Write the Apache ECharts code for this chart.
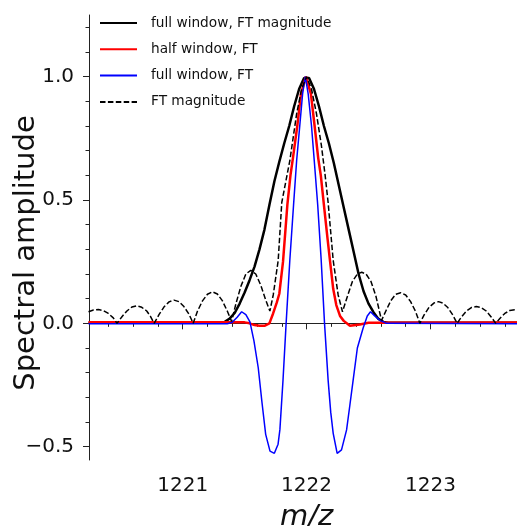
<!DOCTYPE html>
<html><head><meta charset="utf-8">
<script src="https://cdn.jsdelivr.net/npm/echarts@6/dist/echarts.min.js"></script>
<style>html,body{margin:0;padding:0;background:#fff}#c{width:517px;height:526px}</style>
</head><body><div id="c"></div>
<script>
// ---- data ----
const seriesNames = ['full window, FT magnitude', 'half window, FT', 'full window, FT', 'FT magnitude'];
const xTitle = 'm/z';
const yTitle = 'Spectral amplitude';

const xMajorTicks = [1221, 1222, 1223];
const xMinorTicks = [1220.4,1220.6,1220.8,1221.0,1221.2,1221.4,1221.6,1221.8,1222.0,1222.2,1222.4,1222.6,1222.8,1223.0,1223.2,1223.4,1223.6];
const yMajorTicks = [-0.5, 0.0, 0.5, 1.0];
const yMinorTicks = [-0.5,-0.4,-0.3,-0.2,-0.1,0.0,0.1,0.2,0.3,0.4,0.5,0.6,0.7,0.8,0.9,1.0,1.1,1.2];

const blackX = [1220.24,1221.30,1221.34,1221.38,1221.42,1221.46,1221.50,1221.54,1221.58,1221.62,1221.66,1221.70,1221.74,1221.78,1221.82,1221.86,1221.90,1221.94,1221.98,1222.02,1222.06,1222.10,1222.14,1222.18,1222.22,1222.26,1222.30,1222.34,1222.38,1222.42,1222.46,1222.50,1222.54,1222.58,1222.62,1222.66,1223.80];
const blackY = [0.002,0.002,0.006,0.02,0.042,0.08,0.125,0.175,0.23,0.3,0.38,0.48,0.575,0.655,0.73,0.8,0.88,0.95,0.995,0.995,0.95,0.88,0.8,0.73,0.65,0.56,0.47,0.38,0.29,0.2,0.13,0.08,0.045,0.018,0.006,0.002,0.002];

const redX = [1220.24,1221.50,1221.54,1221.58,1221.62,1221.66,1221.70,1221.73,1221.76,1221.78,1221.81,1221.845,1221.87,1221.89,1221.925,1221.955,1221.995,1222.035,1222.065,1222.094,1222.115,1222.14,1222.17,1222.19,1222.215,1222.24,1222.27,1222.30,1222.35,1222.43,1222.50,1223.80];
const redY = [0.004,0.004,0.0,-0.007,-0.01,-0.01,0.0,0.04,0.085,0.12,0.25,0.48,0.6,0.67,0.8,0.93,1.0,0.93,0.8,0.67,0.6,0.48,0.34,0.25,0.14,0.074,0.03,0.01,-0.01,-0.005,0.002,0.004];

const blueX = [1220.24,1221.36,1221.40,1221.44,1221.476,1221.51,1221.543,1221.575,1221.61,1221.64,1221.67,1221.705,1221.74,1221.77,1221.785,1221.81,1221.835,1221.865,1221.895,1221.92,1221.945,1221.968,1221.99,1222.013,1222.04,1222.062,1222.09,1222.118,1222.145,1222.174,1222.195,1222.215,1222.247,1222.282,1222.323,1222.35,1222.376,1222.41,1222.456,1222.49,1222.516,1222.55,1222.59,1222.645,1223.80];
const blueY = [-0.002,-0.002,0.004,0.025,0.047,0.035,0.006,-0.07,-0.18,-0.32,-0.45,-0.518,-0.527,-0.49,-0.43,-0.23,0.0,0.257,0.48,0.66,0.8,0.93,1.0,0.93,0.8,0.66,0.48,0.257,0.0,-0.23,-0.36,-0.446,-0.527,-0.513,-0.432,-0.33,-0.23,-0.1,-0.02,0.03,0.047,0.03,0.013,0.0,-0.002];

const dashX = [1220.24,1220.28,1220.32,1220.36,1220.40,1220.44,1220.47,
  1220.51,1220.55,1220.59,1220.63,1220.67,1220.71,1220.74,1220.77,
  1220.81,1220.85,1220.89,1220.93,1220.97,1221.01,1221.05,1221.085,
  1221.12,1221.16,1221.20,1221.24,1221.28,1221.32,1221.36,1221.395,
  1221.43,1221.47,1221.51,1221.55,1221.59,1221.63,1221.67,1221.704,
  1221.731,1221.771,1221.80,1221.865,1221.92,1221.96,1222.00,1222.04,1222.08,1222.12,1222.15,1222.174,1222.215,1222.255,1222.29,
  1222.33,1222.37,1222.41,1222.445,1222.48,1222.52,1222.56,1222.605,
  1222.64,1222.68,1222.72,1222.76,1222.80,1222.84,1222.88,1222.914,
  1222.95,1222.99,1223.03,1223.065,1223.10,1223.14,1223.18,1223.215,
  1223.25,1223.29,1223.33,1223.37,1223.41,1223.45,1223.49,1223.527,
  1223.56,1223.60,1223.64,1223.68,1223.72,1223.76];
const dashY = [0.047,0.054,0.056,0.052,0.04,0.022,0.0,
  0.027,0.05,0.066,0.071,0.065,0.05,0.028,0.0,
  0.036,0.067,0.087,0.094,0.088,0.068,0.038,0.0,
  0.05,0.091,0.118,0.128,0.119,0.092,0.05,0.008,
  0.08,0.15,0.2,0.215,0.2,0.155,0.095,0.05,
  0.115,0.255,0.49,0.66,0.85,0.95,1.0,0.95,0.85,0.72,0.6,0.49,0.255,0.115,0.047,
  0.11,0.17,0.2,0.207,0.2,0.17,0.11,0.012,
  0.05,0.092,0.118,0.124,0.115,0.088,0.048,0.0,
  0.035,0.066,0.083,0.088,0.082,0.064,0.034,0.0,
  0.026,0.05,0.064,0.068,0.064,0.05,0.026,0.0,
  0.02,0.04,0.052,0.055,0.052,0.042];

// ---- chart ----
const FONT = 'DejaVu Sans';
const X_MIN = 1220.244, X_MAX = 1223.755, Y_MIN = -0.554, Y_MAX = 1.25;
const pairs = (xs, ys) => xs.map((x, i) => [x, ys[i]]);
const fmtY = v => (v < 0 ? '\u2212' + Math.abs(v).toFixed(1) : v.toFixed(1));

const chart = echarts.init(document.getElementById('c'), null, {renderer: 'canvas'});
const axisLine = {show: true, lineStyle: {color: '#222', width: 1}};
chart.setOption({
  animation: false,
  backgroundColor: '#fff',
  grid: {left: 89, right: -7, top: 15, bottom: 66, containLabel: false, outerBoundsMode: 'none'},
  legend: {
    orient: 'vertical', left: 94, top: 11,
    itemWidth: 37, itemHeight: 14, itemGap: 12.3,
    itemStyle: {opacity: 0},
    textStyle: {fontFamily: FONT, fontSize: 13.7, color: '#111', padding: [0, 0, 0, 9]},
    data: seriesNames
  },
  graphic: [{
    type: 'text', x: 26, y: 253, rotation: Math.PI / 2, silent: true,
    style: {text: yTitle, font: '29px "DejaVu Sans"', fill: '#111', align: 'center', verticalAlign: 'middle'}
  }],
  xAxis: [{
    type: 'value', min: X_MIN, max: X_MAX, position: 'bottom',
    axisLine: axisLine, splitLine: {show: false},
    axisTick: {show: true, inside: false, length: 6, customValues: xMajorTicks, lineStyle: {color: '#222'}},
    axisLabel: {show: true, customValues: xMajorTicks, margin: 16, fontFamily: FONT, fontSize: 20, color: '#111', formatter: v => String(Math.round(v))},
    name: xTitle, nameLocation: 'middle', nameGap: 43,
    nameTextStyle: {fontFamily: FONT, fontSize: 29, fontStyle: 'italic', color: '#111'}
  }, {
    type: 'value', min: X_MIN, max: X_MAX, position: 'bottom',
    axisLine: {show: false}, splitLine: {show: false}, axisLabel: {show: false},
    axisTick: {show: true, inside: false, length: 3.5, customValues: xMinorTicks, lineStyle: {color: '#222'}}
  }],
  yAxis: [{
    type: 'value', min: Y_MIN, max: Y_MAX, position: 'left',
    axisLine: axisLine, splitLine: {show: false},
    axisTick: {show: true, inside: false, length: 6, customValues: yMajorTicks, lineStyle: {color: '#222'}},
    axisLabel: {show: true, customValues: yMajorTicks, margin: 15, fontFamily: FONT, fontSize: 20, color: '#111', formatter: fmtY}
  }, {
    type: 'value', min: Y_MIN, max: Y_MAX, position: 'left',
    axisLine: {show: false}, splitLine: {show: false}, axisLabel: {show: false},
    axisTick: {show: true, inside: false, length: 3.5, customValues: yMinorTicks, lineStyle: {color: '#222'}}
  }],
  series: [
    {name: seriesNames[0], type: 'line', xAxisIndex: 0, yAxisIndex: 0, symbol: 'none', data: pairs(blackX, blackY),
     lineStyle: {color: '#000', width: 2.5}, itemStyle: {color: '#000'}, z: 2},
    {name: seriesNames[1], type: 'line', xAxisIndex: 0, yAxisIndex: 0, symbol: 'none', data: pairs(redX, redY),
     lineStyle: {color: '#ff0000', width: 2.5}, itemStyle: {color: '#ff0000'}, z: 3},
    {name: seriesNames[2], type: 'line', xAxisIndex: 0, yAxisIndex: 0, symbol: 'none', data: pairs(blueX, blueY),
     lineStyle: {color: '#0000ff', width: 1.5}, itemStyle: {color: '#0000ff'}, z: 4},
    {name: seriesNames[3], type: 'line', xAxisIndex: 0, yAxisIndex: 0, symbol: 'none', data: pairs(dashX, dashY),
     lineStyle: {color: '#000', width: 1.5, type: [5.5, 2.4]}, itemStyle: {color: '#000'}, z: 5}
  ]
});
</script>
</body></html>
